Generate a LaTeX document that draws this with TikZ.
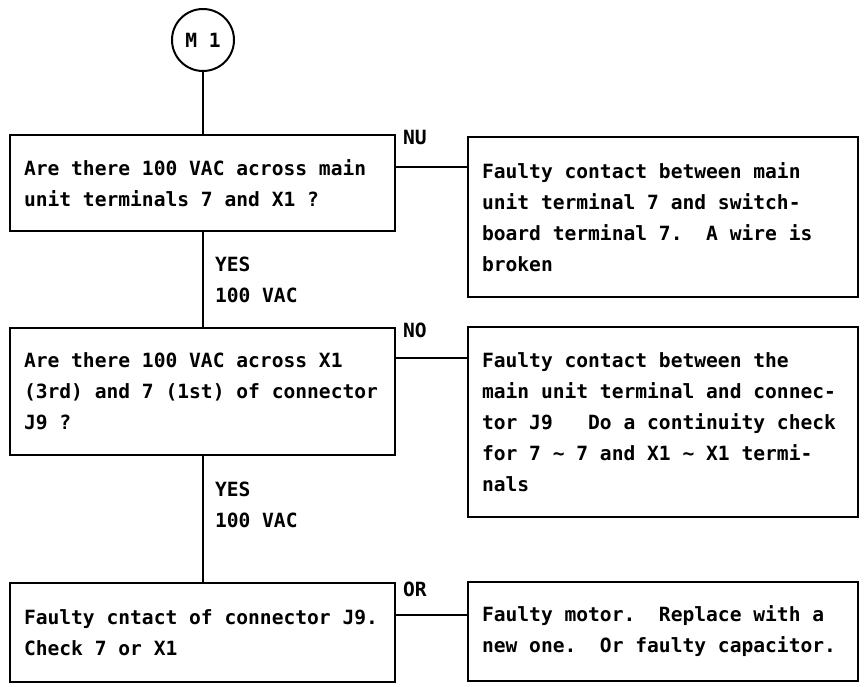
\documentclass[tikz,border=0pt]{standalone}
\usepackage{fontspec}
\newfontfamily\dmono[BoldFont={DejaVu Sans Mono Bold}]{DejaVu Sans Mono}
\begin{document}
\begin{tikzpicture}[x=1pt,y=-1pt,
  line width=2pt,
  txt/.style={font={\dmono\bfseries\fontsize{19.6pt}{31pt}\selectfont\frenchspacing},
    execute at begin node={\spaceskip=0.602em\relax\xspaceskip=0.602em\relax}},
  box/.style={draw, rectangle, anchor=north west, outer sep=0pt,
    inner xsep=14pt, inner ysep=0pt, align=left, txt},
  lbox/.style={box, text width=357pt},
  rbox/.style={box, text width=362pt},
  lab/.style={anchor=west, inner sep=0pt, txt},
  yes/.style={anchor=north west, inner sep=0pt, align=left, txt},
]
\useasboundingbox (0,0) rectangle (865,687);

\node[draw, circle, minimum size=62pt, inner sep=0pt, outer sep=0pt, txt] (m1) at (203,40) {M 1};

\node[lbox, minimum height=96pt] (b1) at (10,135)
  {Are there 100 VAC across main\\unit terminals 7 and X1 ?};
\node[lbox, minimum height=127pt] (b2) at (10,328)
  {Are there 100 VAC across X1\\(3rd) and 7 (1st) of connector\\J9 ?};
\node[lbox, minimum height=99pt] (b3) at (10,583)
  {Faulty cntact of connector J9.\\Check 7 or X1};

\node[rbox, minimum height=160pt] (r1) at (468,137)
  {Faulty contact between main\\unit terminal 7 and switch-\\board terminal 7.\ \ A wire is\\broken};
\node[rbox, minimum height=190pt] (r2) at (468,327)
  {Faulty contact between the\\main unit terminal and connec-\\tor J9\ \ \ Do a continuity check\\for 7 ∼ 7 and X1 ∼ X1 termi-\\nals};
\node[rbox, minimum height=99pt] (r3) at (468,582)
  {Faulty motor.\ \ Replace with a\\new one.\ \ Or faulty capacitor.};

\node[lab] (l1) at (402,137) {NU};
\node[lab] (l2) at (402,330) {NO};
\node[lab] (l3) at (402,589) {OR};

\node[yes] (y1) at (214,256) {YES\\100 VAC};
\node[yes] (y2) at (214,481) {YES\\100 VAC};

\draw (m1.south) -- (m1.south |- b1.north);
\draw (b1.south) -- (b2.north);
\draw (b2.south) -- (b3.north);

\coordinate (c1) at ([yshift=-32pt]b1.north east);
\coordinate (c2) at ([yshift=-30pt]b2.north east);
\coordinate (c3) at ([yshift=-32pt]b3.north east);
\draw (c1) -- (c1 -| r1.west);
\draw (c2) -- (c2 -| r2.west);
\draw (c3) -- (c3 -| r3.west);
\end{tikzpicture}
\end{document}
